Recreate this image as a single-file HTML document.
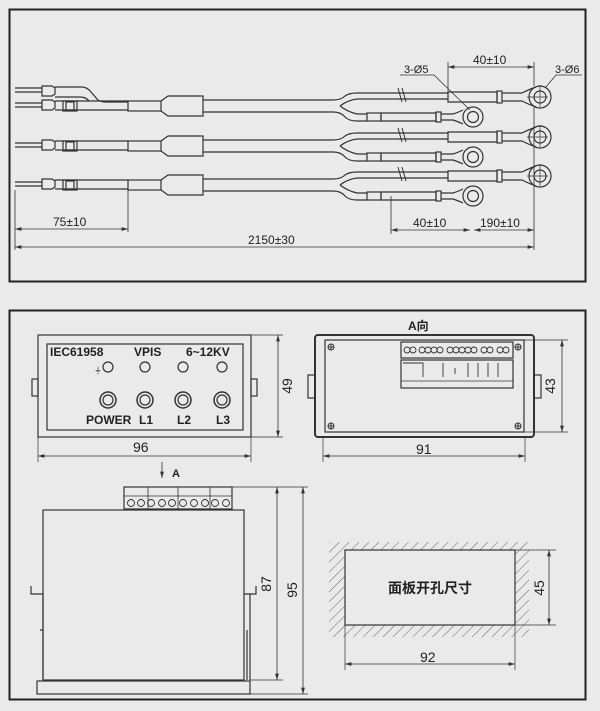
<!DOCTYPE html>
<html><head><meta charset="utf-8"><style>
html,body{margin:0;padding:0;background:#e9eae9;}
svg{display:block;}
text{font-family:"Liberation Sans","Noto Sans CJK SC",sans-serif;fill:#222;}
</style></head><body>
<svg width="600" height="711" viewBox="0 0 600 711" xmlns="http://www.w3.org/2000/svg">
<defs>
<marker id="ar" viewBox="0 0 10 6" refX="10" refY="3" markerWidth="8" markerHeight="5" orient="auto-start-reverse"><path d="M0,0 L10,3 L0,6z" fill="#333"/></marker>
<pattern id="hatch" width="7" height="7" patternUnits="userSpaceOnUse" patternTransform="rotate(45)"><line x1="0" y1="0" x2="0" y2="7" stroke="#666" stroke-width="1"/></pattern>
<g id="row" fill="none" stroke="#333" stroke-width="1.2">
  <!-- lower pin -->
  <line x1="15" y1="103" x2="42" y2="103"/><line x1="15" y1="107" x2="42" y2="107"/>
  <path d="M42,100 h10 l3,2 v6 l-3,2 h-10z"/>
  <rect x="63" y="101" width="14" height="10"/>
  <rect x="66" y="102" width="8" height="8"/>
  <path d="M55,101 H128 M55,110 H128"/>
  <rect x="128" y="101" width="33" height="10"/>
  <path d="M161,101 l7,-5 h35 v20 h-35 l-7,-5"/>
  <path d="M203,100 H333 q8,0 12,-4 q4,-3 12,-3 H448"/>
  <path d="M203,112 H333 q8,0 12,5 q4,4 12,4 H367"/>
  <path d="M340,106 q8,-6 17,-7 H448 M340,106 q8,6 17,8 H367"/>
  <path d="M448,92 h49 v10 h-49z"/><rect x="497" y="91" width="5" height="12"/>
  <path d="M502,93 h20 q8,-4 14,-6 M502,101 h20 q8,4 14,6"/>
  <circle cx="540" cy="97" r="11"/><circle cx="540" cy="97" r="6"/>
  <path d="M527,97 h21 M540,85 v22" stroke-width="0.7"/>
  <rect x="367" y="113" width="14" height="8"/>
  <path d="M381,113 h55 v8 h-55z"/><rect x="436" y="112" width="5" height="10"/>
  <path d="M441,114 h12 q6,-2 10,-4 M441,120 h12 q6,2 10,4"/>
  <circle cx="473" cy="117" r="10"/><circle cx="473" cy="117" r="5.5"/>
  <path d="M398,88 l4,14 M402,88 l4,14" stroke-width="1"/>
</g>
</defs>
<!-- top frame -->
<rect x="9.5" y="9.5" width="576" height="272" fill="none" stroke="#222" stroke-width="2"/>
<use href="#row" transform="translate(0,0)"/>
<use href="#row" transform="translate(0,40)"/>
<use href="#row" transform="translate(0,79)"/>
<!-- extra upper pin row1 -->
<g fill="none" stroke="#333" stroke-width="1.2">
<line x1="15" y1="88" x2="42" y2="88"/><line x1="15" y1="92" x2="42" y2="92"/>
<path d="M42,86 h10 l3,2 v6 l-3,2 h-10z"/>
<path d="M55,87 H82 q5,0 9,5 l7,8 q3,2 8,2 H128 M55,97 H80 q6,0 9,4"/>
<!-- dims -->
<path d="M15,190 V250 M128,190 V232 M391,196 V234 M534,107 V250 M448,92 V62 M534,62 V86" stroke-width="0.8"/>
<line x1="15" y1="229" x2="128" y2="229" stroke-width="0.8" marker-start="url(#ar)" marker-end="url(#ar)"/>
<line x1="15" y1="247" x2="534" y2="247" stroke-width="0.8" marker-start="url(#ar)" marker-end="url(#ar)"/>
<line x1="391" y1="230" x2="470" y2="230" stroke-width="0.8" marker-start="url(#ar)" marker-end="url(#ar)"/>
<line x1="474" y1="230" x2="534" y2="230" stroke-width="0.8" marker-start="url(#ar)" marker-end="url(#ar)"/>
<line x1="448" y1="67" x2="534" y2="67" stroke-width="0.8" marker-start="url(#ar)" marker-end="url(#ar)"/>
<path d="M400,75 H434 L470,110 M582,75 H556 L545,88" stroke-width="0.8"/>
</g>
<g font-size="12">
<text x="53" y="226">75±10</text>
<text x="248" y="244">2150±30</text>
<text x="413" y="227">40±10</text>
<text x="480" y="227">190±10</text>
<text x="473" y="64">40±10</text>
<text x="404" y="73" font-size="11">3-Ø5</text>
<text x="555" y="73" font-size="11">3-Ø6</text>
</g>

<!-- bottom frame -->
<rect x="9.5" y="310.5" width="576" height="389" fill="none" stroke="#222" stroke-width="2"/>

<!-- front panel -->
<g fill="none" stroke="#333" stroke-width="1.2">
<rect x="38" y="335" width="213" height="102"/>
<rect x="47" y="344" width="196" height="86"/>
<rect x="32" y="379" width="6" height="17"/><rect x="251" y="379" width="6" height="17"/>
<circle cx="108" cy="367" r="5"/><circle cx="145" cy="367" r="5"/><circle cx="183" cy="367" r="5"/><circle cx="222" cy="367" r="5"/>
<g stroke-width="1.5"><circle cx="108" cy="400" r="8"/><circle cx="145" cy="400" r="8"/><circle cx="183" cy="400" r="8"/><circle cx="222" cy="400" r="8"/></g>
<circle cx="108" cy="400" r="5"/><circle cx="145" cy="400" r="5"/><circle cx="183" cy="400" r="5"/><circle cx="222" cy="400" r="5"/>
<path d="M38,437 V462 M251,437 V462 M251,335 H283 M251,437 H283" stroke-width="0.7"/>
<line x1="38" y1="456" x2="251" y2="456" stroke-width="0.8" marker-start="url(#ar)" marker-end="url(#ar)"/>
<line x1="278" y1="335" x2="278" y2="437" stroke-width="0.8" marker-start="url(#ar)" marker-end="url(#ar)"/>
</g>
<g font-size="12" font-weight="bold">
<text x="50" y="356">IEC61958</text><text x="134" y="356">VPIS</text><text x="186" y="356">6~12KV</text>
<text x="86" y="424">POWER</text><text x="139" y="424">L1</text><text x="177" y="424">L2</text><text x="216" y="424">L3</text>
</g>
<text x="94" y="373" font-size="8">⏚</text>
<text x="133" y="452" font-size="14">96</text>
<text transform="translate(292,386) rotate(-90)" font-size="14" text-anchor="middle">49</text>

<!-- back view -->
<g fill="none" stroke="#333" stroke-width="1.2">
<rect x="315" y="335" width="219" height="102" rx="3" stroke-width="2"/>
<rect x="325" y="340" width="199" height="92"/>
<rect x="308" y="375" width="7" height="23"/><rect x="534" y="375" width="7" height="23"/>
<rect x="401" y="342" width="112" height="16"/>
<rect x="401" y="360" width="112" height="28"/>
<line x1="401" y1="381" x2="513" y2="381" stroke-width="0.7"/>
<g stroke-width="0.9">
<circle cx="407" cy="350" r="3"/><circle cx="413" cy="350" r="3"/><circle cx="422" cy="350" r="3"/><circle cx="428" cy="350" r="3"/><circle cx="434" cy="350" r="3"/><circle cx="440" cy="350" r="3"/><circle cx="450" cy="350" r="3"/><circle cx="456" cy="350" r="3"/><circle cx="462" cy="350" r="3"/><circle cx="468" cy="350" r="3"/><circle cx="474" cy="350" r="3"/><circle cx="484" cy="350" r="3"/><circle cx="490" cy="350" r="3"/><circle cx="500" cy="350" r="3"/><circle cx="506" cy="350" r="3"/>
<path d="M403,363 h20 v14 M443,363 v14 M468,363 v14 M478,363 v14 M488,363 v14 M498,363 v14 M455,368 v6"/>
</g>
<g stroke-width="1"><circle cx="331" cy="347" r="3"/><circle cx="518" cy="347" r="3"/><circle cx="331" cy="426" r="3"/><circle cx="518" cy="426" r="3"/>
<path d="M328,347h6M331,344v6M515,347h6M518,344v6M328,426h6M331,423v6M515,426h6M518,423v6"/></g>
<path d="M323,437 V462 M525,437 V462 M524,340 H568 M524,432 H568" stroke-width="0.7"/>
<line x1="323" y1="456" x2="525" y2="456" stroke-width="0.8" marker-start="url(#ar)" marker-end="url(#ar)"/>
<line x1="562" y1="340" x2="562" y2="432" stroke-width="0.8" marker-start="url(#ar)" marker-end="url(#ar)"/>
</g>
<text x="408" y="330" font-size="12" font-weight="bold">A向</text>
<text x="416" y="454" font-size="14">91</text>
<text transform="translate(555,386) rotate(-90)" font-size="14" text-anchor="middle">43</text>

<!-- side view -->
<g fill="none" stroke="#333" stroke-width="1.2">
<line x1="162" y1="462" x2="162" y2="478" stroke-width="0.8" marker-end="url(#ar)"/>
<rect x="124" y="487" width="108" height="22"/>
<path d="M148,487v22M178,487v22M210,487v22M124,496h108" stroke-width="0.8"/>
<g stroke-width="0.9">
<circle cx="131" cy="503" r="3.5"/><circle cx="141" cy="503" r="3.5"/><circle cx="151" cy="503" r="3.5"/><circle cx="162" cy="503" r="3.5"/><circle cx="172" cy="503" r="3.5"/><circle cx="183" cy="503" r="3.5"/><circle cx="194" cy="503" r="3.5"/><circle cx="205" cy="503" r="3.5"/><circle cx="215" cy="503" r="3.5"/><circle cx="226" cy="503" r="3.5"/>
</g>
<rect x="43" y="510" width="201" height="170"/>
<rect x="37" y="681" width="213" height="13"/>
<path d="M31,586 v8 h12 M256,586 v8 h-12 M43,594 V680 M40,630 h3 v50 M244,594 h6 v86 M247,630 v50"/>
<path d="M232,487 H308 M250,680 H283 M250,694 H308" stroke-width="0.7"/>
<line x1="277" y1="487" x2="277" y2="680" stroke-width="0.8" marker-start="url(#ar)" marker-end="url(#ar)"/>
<line x1="303" y1="487" x2="303" y2="694" stroke-width="0.8" marker-start="url(#ar)" marker-end="url(#ar)"/>
</g>
<text x="172" y="477" font-size="11" font-weight="bold">A</text>
<text transform="translate(271,584) rotate(-90)" font-size="14" text-anchor="middle">87</text>
<text transform="translate(297,590) rotate(-90)" font-size="14" text-anchor="middle">95</text>

<!-- cutout -->
<rect x="329" y="542" width="200" height="95" fill="url(#hatch)"/>
<rect x="345" y="550" width="170" height="75" fill="#e9eae9" stroke="#333" stroke-width="1.2"/>
<g fill="none" stroke="#333">
<path d="M345,625 V670 M515,625 V670 M515,550 H556 M515,625 H556" stroke-width="0.7"/>
<line x1="345" y1="664" x2="515" y2="664" stroke-width="0.8" marker-start="url(#ar)" marker-end="url(#ar)"/>
<line x1="549" y1="550" x2="549" y2="625" stroke-width="0.8" marker-start="url(#ar)" marker-end="url(#ar)"/>
</g>
<text x="430" y="593" font-size="14" font-weight="bold" text-anchor="middle">面板开孔尺寸</text>
<text x="420" y="662" font-size="14">92</text>
<text transform="translate(544,588) rotate(-90)" font-size="14" text-anchor="middle">45</text>
</svg>
</body></html>
